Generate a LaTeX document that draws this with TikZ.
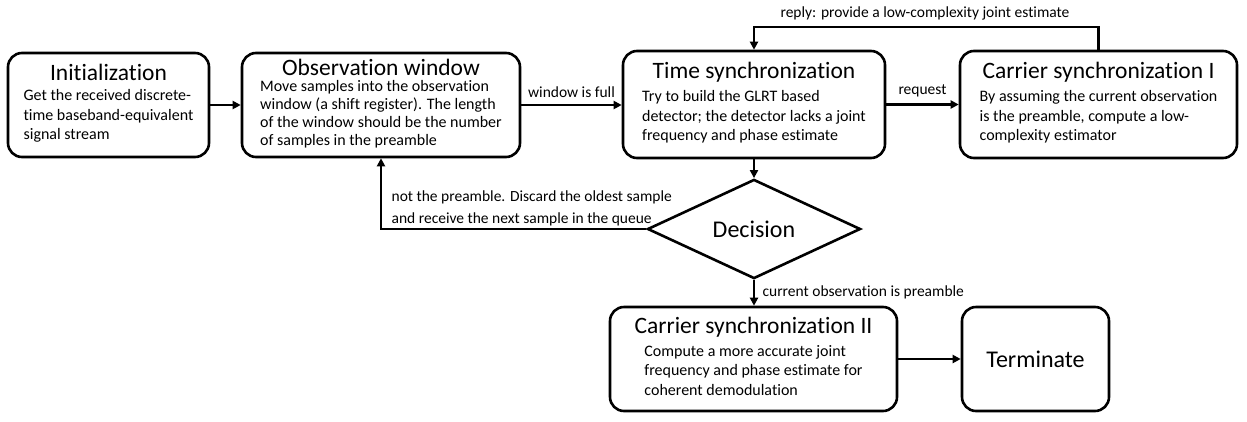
\documentclass[tikz,border=0pt]{standalone}
\usepackage{fontspec}
\setmainfont{Carlito}[Ligatures=NoCommon]
\usetikzlibrary{arrows.meta,shapes.geometric}

\tikzset{
    block/.style={draw, line width=2.6pt, rounded corners=14pt, align=center, inner sep=0pt,
        font=\fontsize{16}{19.5}\selectfont},
    decide/.style={draw, diamond, line width=2.6pt, inner sep=0pt, minimum width=213pt,
        minimum height=74pt, font=\fontsize{24}{27}\selectfont},
    flow/.style={line width=2.6pt, -{Triangle[length=8pt,width=8pt]}},
    lbl/.style={font=\fontsize{15.5}{22}\selectfont}
}
\newcommand{\blocktitle}[2][5pt]{{\fontsize{23.5}{27}\selectfont #2}\\[#1]}

\begin{document}
\begin{tikzpicture}[x=1pt, y=-1pt]
    \useasboundingbox (0,0) rectangle (1247,421);

    % Blocks
    \node[block, minimum width=201pt, minimum height=104pt] (init) at (108.5,105)
        {\blocktitle{Initialization}\begin{tabular}{@{}l@{}}Get the received discrete-\\time baseband-equivalent\\signal stream\end{tabular}};
    \node[block, minimum width=278pt, minimum height=104pt, font=\fontsize{16}{18}\selectfont] (obs) at (381,105)
        {\blocktitle[3pt]{Observation window}\begin{tabular}{@{}l@{}}Move samples into the observation\\window (a shift register). The length\\of the window should be the number\\of samples in the preamble\end{tabular}};
    \node[block, minimum width=262pt, minimum height=107pt] (timesync) at (754,104.5)
        {\blocktitle{Time synchronization}\begin{tabular}{@{}l@{}}Try to build the GLRT based\\detector; the detector lacks a joint\\frequency and phase estimate\end{tabular}};
    \node[block, minimum width=277pt, minimum height=107pt] (carone) at (1098.5,104.5)
        {\blocktitle{Carrier synchronization I}\begin{tabular}{@{}l@{}}By assuming the current observation\\is the preamble, compute a low-\\complexity estimator\end{tabular}};
    \node[decide] (dec) at (754,229) {Decision};
    \node[block, minimum width=287pt, minimum height=104pt] (cartwo) at (753.5,359)
        {\blocktitle{Carrier synchronization II}\begin{tabular}{@{}l@{}}Compute a more accurate joint\\frequency and phase estimate for\\coherent demodulation\end{tabular}};
    \node[block, minimum width=147pt, minimum height=104pt, font=\fontsize{24}{27}\selectfont] (term) at (1035.5,359) {Terminate};

    % Connectors
    \draw[flow] (init) -- (obs);
    \draw[flow] (obs.east) -- (obs.east -| timesync.west) node[lbl, midway, above=3pt] {window is full};
    \draw[flow] (timesync.east) -- (timesync.east -| carone.west) node[lbl, midway, above=3pt] {request};

    % Reply loop
    \coordinate (replytop) at (925,27);
    \draw[flow] (carone.north) |- (replytop) node[lbl, above=2pt] {reply: provide a low-complexity joint estimate} -| (timesync.north);

    \draw[flow] (timesync) -- (dec);
    \draw[flow] (dec.west) -| (obs.south)
        node[lbl, pos=0.5, anchor=south west, align=left, xshift=6pt, yshift=-2pt] {not the preamble. Discard the oldest sample\\and receive the next sample in the queue};
    \draw[flow] (dec.south) -- (dec.south |- cartwo.north) node[lbl, midway, right=4pt] {current observation is preamble};
    \draw[flow] (cartwo.east) -- (term.west);
\end{tikzpicture}
\end{document}
